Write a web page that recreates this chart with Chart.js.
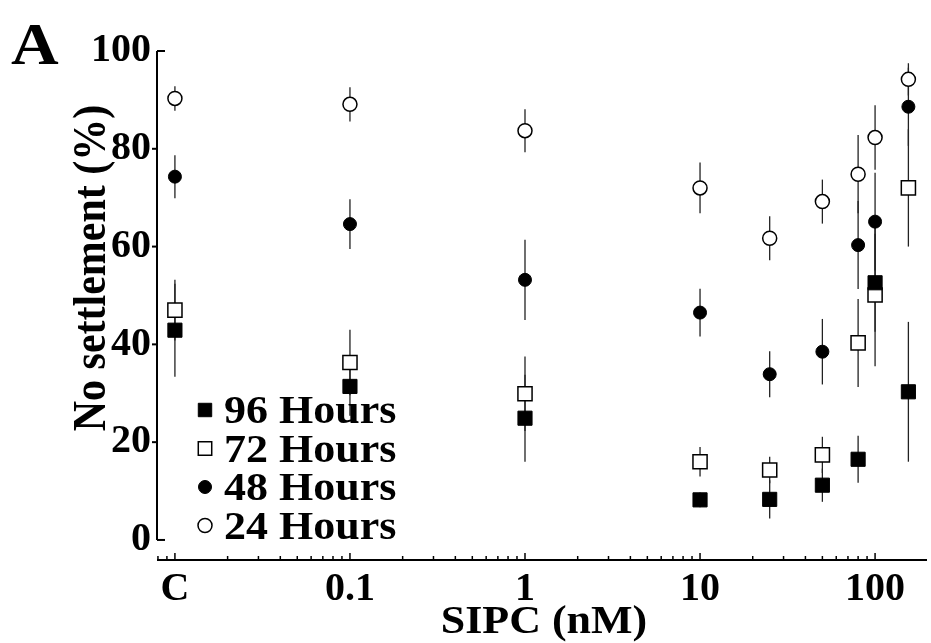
<!DOCTYPE html>
<html><head><meta charset="utf-8">
<script src="https://cdn.jsdelivr.net/npm/chart.js@4.4.0/dist/chart.umd.min.js"></script>
<style>html,body{margin:0;padding:0;background:#fff;}#wrap{position:relative;width:931px;height:643px;}</style>
</head><body><div id="wrap"><canvas id="c" width="931" height="643"></canvas></div>
<script>
// ---- data ----
const concentrations = [0.01, 0.1, 1, 10, 25, 50, 80, 100, 155]; // 0.01 = control "C"
const h96 = [42.9, 31.4, 24.9, 8.2, 8.3, 11.2, 16.5, 52.6, 30.3];
const h96Err = [9.5, 6.0, 8.9, 1.5, 3.9, 3.4, 4.8, 10.0, 14.3];
const h72 = [47.0, 36.3, 29.9, 16.0, 14.3, 17.4, 40.3, 50.1, 72.0];
const h72Err = [6.2, 6.7, 7.6, 3.0, 2.7, 3.7, 9.0, 14.6, 12.0];
const h48 = [74.3, 64.6, 53.2, 46.5, 33.9, 38.5, 60.3, 65.1, 88.6];
const h48Err = [4.4, 5.1, 8.2, 4.9, 4.7, 6.7, 9.0, 10.0, 8.0];
const h24 = [90.3, 89.1, 83.7, 72.0, 61.7, 69.2, 74.8, 82.3, 94.2];
const h24Err = [2.5, 3.5, 4.4, 5.2, 4.5, 4.5, 8.0, 6.6, 3.3];
const seriesLabels = ['96 Hours', '72 Hours', '48 Hours', '24 Hours'];
const xTickValues = [0.01, 0.1, 1, 10, 100];
const xTickLabels = ['C', '0.1', '1', '10', '100'];
const yTickValues = [0, 20, 40, 60, 80, 100];
const xTitle = 'SIPC (nM)';
const yTitle = 'No settlement (%)';
const panelLabel = 'A';

// ---- styling ----
const FONT = '"Liberation Serif", "Times New Roman", serif';
const STRETCH = 1.1;
const toPts = (ys) => concentrations.map((x, i) => ({x: x, y: ys[i]}));
const datasets = [
  {label: seriesLabels[0], data: toPts(h96), err: h96Err, pointStyle: 'rect', pointRadius: 10, pointBackgroundColor: '#000', pointBorderColor: '#000', pointBorderWidth: 1, legendRadius: 9.5},
  {label: seriesLabels[1], data: toPts(h72), err: h72Err, pointStyle: 'rect', pointRadius: 10, pointBackgroundColor: '#fff', pointBorderColor: '#000', pointBorderWidth: 1.5, legendRadius: 9.5},
  {label: seriesLabels[2], data: toPts(h48), err: h48Err, pointStyle: 'circle', pointRadius: 6.5, pointBackgroundColor: '#000', pointBorderColor: '#000', pointBorderWidth: 1, legendRadius: 6.5},
  {label: seriesLabels[3], data: toPts(h24), err: h24Err, pointStyle: 'circle', pointRadius: 7, pointBackgroundColor: '#fff', pointBorderColor: '#000', pointBorderWidth: 1.5, legendRadius: 7}
];
datasets.forEach(d => { d.showLine = false; d.pointHoverRadius = d.pointRadius; });

function stretchedText(ctx, text, x, y, rot) {
  ctx.save();
  ctx.translate(x, y);
  ctx.scale(STRETCH, 1);
  if (rot) ctx.rotate(rot);
  ctx.fillText(text, 0, 0);
  ctx.restore();
}

const errorBars = {
  id: 'errorBars',
  beforeDatasetsDraw(chart) {
    const ctx = chart.ctx, ys = chart.scales.y;
    ctx.save();
    ctx.strokeStyle = '#222';
    ctx.lineWidth = 1.3;
    chart.data.datasets.forEach((ds, di) => {
      const meta = chart.getDatasetMeta(di);
      meta.data.forEach((pt, i) => {
        const v = ds.data[i].y, e = ds.err[i];
        ctx.beginPath();
        ctx.moveTo(pt.x, ys.getPixelForValue(v + e));
        ctx.lineTo(pt.x, ys.getPixelForValue(v - e));
        ctx.stroke();
      });
    });
    ctx.restore();
  }
};

const decor = {
  id: 'decor',
  afterDraw(chart) {
    const ctx = chart.ctx, xs = chart.scales.x, ys = chart.scales.y, ca = chart.chartArea;
    ctx.save();
    ctx.strokeStyle = '#000';
    ctx.lineWidth = 2;
    // y axis
    const yTop = ys.getPixelForValue(100), yBot = ys.getPixelForValue(0);
    ctx.beginPath(); ctx.moveTo(ca.left, yTop); ctx.lineTo(ca.left, yBot); ctx.stroke();
    yTickValues.forEach(v => {
      const p = ys.getPixelForValue(v);
      ctx.beginPath();
      if (v === 0 || v === 100) { ctx.moveTo(ca.left, p); ctx.lineTo(ca.left + 8, p); }
      else { ctx.moveTo(ca.left - 5, p); ctx.lineTo(ca.left, p); }
      ctx.stroke();
    });
    // x axis
    ctx.beginPath(); ctx.moveTo(ca.left, ca.bottom); ctx.lineTo(ca.right, ca.bottom); ctx.stroke();
    ctx.lineWidth = 1.5;
    for (let d = 0.001; d <= 100; d *= 10) {
      for (let m = 1; m <= 9; m++) {
        const v = +(m * d).toPrecision(3);
        if (v < xs.min || v > 100) continue;
        const p = xs.getPixelForValue(v);
        const len = (m === 1) ? 7 : 4;
        ctx.beginPath(); ctx.moveTo(p, ca.bottom); ctx.lineTo(p, ca.bottom - len); ctx.stroke();
      }
    }
    // titles
    ctx.fillStyle = '#000';
    ctx.textBaseline = 'alphabetic';
    ctx.textAlign = 'center';
    ctx.font = 'bold 40px ' + FONT;
    stretchedText(ctx, xTitle, 544, 633);
    ctx.font = 'bold 42px ' + FONT;
    stretchedText(ctx, yTitle, 105, 268, -Math.PI / 2);
    ctx.textAlign = 'left';
    ctx.font = 'bold 60px ' + FONT;
    stretchedText(ctx, panelLabel, 11, 64);
    // legend
    ctx.font = 'bold 40px ' + FONT;
    chart.data.datasets.forEach((ds, i) => {
      const base = 423 + i * 38.5;
      const cy = base - 13;
      ctx.save();
      ctx.fillStyle = ds.pointBackgroundColor;
      ctx.strokeStyle = ds.pointBorderColor;
      ctx.lineWidth = ds.pointBorderWidth;
      Chart.helpers.drawPoint(ctx, {pointStyle: ds.pointStyle, radius: ds.legendRadius, rotation: 0, borderWidth: ds.pointBorderWidth}, 205, cy);
      ctx.restore();
      ctx.fillStyle = '#000';
      stretchedText(ctx, ds.label, 224, base);
    });
    ctx.restore();
  }
};

new Chart(document.getElementById('c'), {
  type: 'scatter',
  data: {datasets: datasets},
  plugins: [errorBars, decor],
  options: {
    responsive: false,
    devicePixelRatio: 1,
    animation: false,
    layout: {autoPadding: false, padding: {left: 0, right: 4, top: 51, bottom: 0}},
    plugins: {legend: {display: false}, tooltip: {enabled: false}},
    scales: {
      x: {
        type: 'logarithmic', min: 0.0079, max: 198,
        grid: {display: false, drawTicks: false}, border: {display: false},
        afterBuildTicks: (s) => { s.ticks = xTickValues.map(v => ({value: v, major: true})); },
        afterFit: (s) => { s.height = 83; s.paddingLeft = 0; s.paddingRight = 0; },
        ticks: {autoSkip: false, maxRotation: 0, padding: 6, color: '#000',
          font: {family: FONT, size: 40, weight: 'bold'},
          callback: (v, i) => xTickLabels[i]}
      },
      y: {
        type: 'linear', min: -4.1, max: 100,
        grid: {display: false, drawTicks: false}, border: {display: false},
        afterBuildTicks: (s) => { s.ticks = yTickValues.map(v => ({value: v})); },
        afterFit: (s) => { s.width = 157; s.paddingTop = 0; s.paddingBottom = 0; },
        ticks: {padding: 6, color: '#000', font: {family: FONT, size: 40, weight: 'bold'}}
      }
    }
  }
});
</script></body></html>
